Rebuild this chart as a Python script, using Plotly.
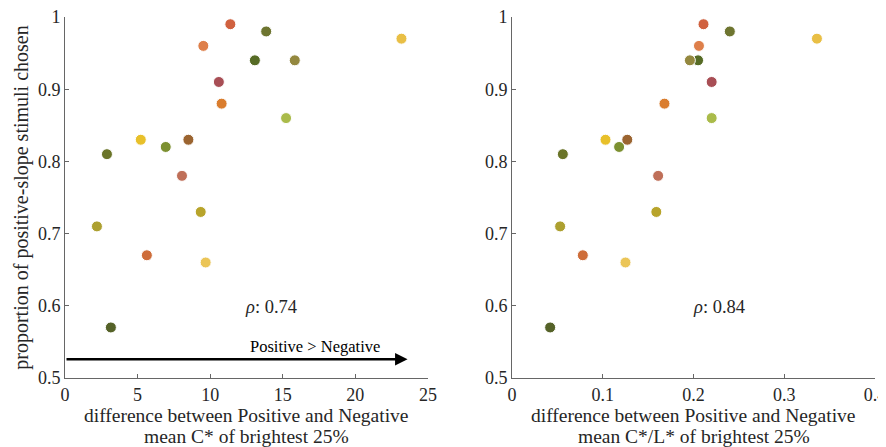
import plotly.graph_objects as go
from plotly.subplots import make_subplots

# data
proportion = [0.99, 0.98, 0.97, 0.96, 0.94, 0.94, 0.91, 0.88, 0.86, 0.83,
              0.83, 0.82, 0.81, 0.78, 0.73, 0.71, 0.67, 0.66, 0.57]
diff_C = [11.39, 13.86, 23.18, 9.53, 13.08, 15.83, 10.60, 10.79, 15.23, 5.22,
          8.50, 6.94, 2.89, 8.06, 9.35, 2.20, 5.64, 9.69, 3.16]
diff_CL = [0.211, 0.240, 0.336, 0.206, 0.205, 0.196, 0.220, 0.168, 0.220, 0.103,
           0.127, 0.118, 0.056, 0.161, 0.159, 0.053, 0.078, 0.125, 0.042]
point_colors = ["#D0613F", "#6E7530", "#E9BF45", "#DE7F4A", "#566B25", "#94883F",
                "#A84E55", "#DA7D2E", "#AABB4A", "#E8C02A", "#9B6430", "#7C9030",
                "#6A7428", "#BF6F58", "#B8A42B", "#ADA030", "#CE6D3A", "#EBC557",
                "#556228"]
rho_left = "0.74"
rho_right = "0.84"
xtitle_left = ["difference between Positive and Negative", "mean C* of brightest 25%"]
xtitle_right = ["difference between Positive and Negative", "mean C*/L* of brightest 25%"]

FONT = "Liberation Serif, DejaVu Serif, serif"
AXC = "#666666"
TXT = "#262626"

fig = make_subplots(rows=1, cols=2, horizontal_spacing=0.1)
fig.update_layout(
    xaxis=dict(domain=[0, 0.448]),
    xaxis2=dict(domain=[0.5519, 1]),
)

marker = dict(size=11, color=point_colors, line=dict(color="white", width=1))
fig.add_trace(go.Scatter(x=diff_C, y=proportion, mode="markers", marker=marker,
                         showlegend=False), row=1, col=1)
fig.add_trace(go.Scatter(x=diff_CL, y=proportion, mode="markers", marker=marker,
                         showlegend=False), row=1, col=2)

axis_common = dict(showline=True, linecolor=AXC, linewidth=1, ticks="inside",
                   ticklen=4, tickcolor=AXC, showgrid=False, zeroline=False,
                   tickfont=dict(family=FONT, size=18, color=TXT),
                   mirror=False, automargin=False, ticklabeloverflow="allow")
fig.update_xaxes(**axis_common)
fig.update_yaxes(**axis_common)

fig.update_xaxes(range=[0, 25], tickvals=[0, 5, 10, 15, 20, 25], row=1, col=1)
fig.update_xaxes(range=[0, 0.4], tickvals=[0, 0.1, 0.2, 0.3, 0.4], row=1, col=2)
fig.update_yaxes(range=[0.5, 1], tickvals=[0.5, 0.6, 0.7, 0.8, 0.9, 1],
                 ticktext=["0.5", "0.6", "0.7", "0.8", "0.9", "1"])
fig.update_yaxes(title=dict(text="proportion of positive-slope stimuli chosen",
                            font=dict(family=FONT, size=20, color=TXT), standoff=3),
                 row=1, col=1)

# x-axis titles as two-line annotations
for xref, lines in (("x domain", xtitle_left), ("x2 domain", xtitle_right)):
    for line, shift in zip(lines, (-37, -58)):
        fig.add_annotation(x=0.5, y=0, xref=xref, yref="paper", yanchor="middle",
                           yshift=shift, showarrow=False, text=line,
                           font=dict(family=FONT, size=19.5, color=TXT))

# arrow
fig.add_annotation(x=23.6, y=0.526, ax=0, ay=0.526, xref="x", yref="y",
                   axref="x", ayref="y", showarrow=True, arrowhead=2,
                   arrowsize=1, arrowwidth=2.5, arrowcolor="black", text="")
fig.add_annotation(x=17.25, y=0.543, xref="x", yref="y", showarrow=False,
                   text="Positive > Negative",
                   font=dict(family=FONT, size=16.5, color="black"))
fig.add_annotation(x=14.2, y=0.599, xref="x", yref="y", showarrow=False,
                   text="<i>ρ</i>: " + rho_left,
                   font=dict(family=FONT, size=18.5, color=TXT))
fig.add_annotation(x=0.228, y=0.599, xref="x2", yref="y2", showarrow=False,
                   text="<i>ρ</i>: " + rho_right,
                   font=dict(family=FONT, size=18.5, color=TXT))

fig.update_layout(width=878, height=439, paper_bgcolor="white",
                  plot_bgcolor="white",
                  margin=dict(l=57, r=11, t=9, b=69, autoexpand=False),
                  font=dict(family=FONT))

fig.write_html("out.html")
